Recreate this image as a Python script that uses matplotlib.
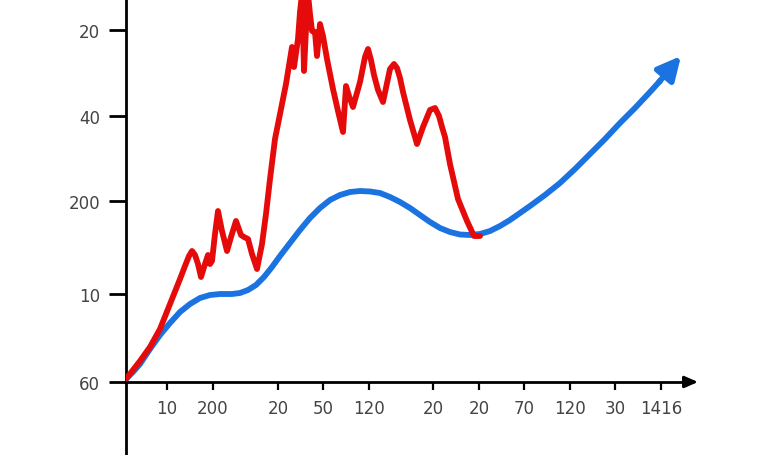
import numpy as np
import matplotlib
matplotlib.use("Agg")
import matplotlib.pyplot as plt

# tick positions (axis units) and their labels
x_ticks = [41, 87, 152, 197, 243, 307, 353, 398, 444, 489, 535]
x_labels = ['10', '200', '20', '50', '120', '20', '20', '70', '120', '30', '1416']
y_ticks = [0, 88, 181, 266, 352]
y_labels = ['60', '10', '200', '40', '20']

# blue series (smooth rising curve)
blue_x = [0, 7, 14, 24, 34, 44, 54, 64, 74, 84, 94, 106, 114, 122, 130, 138, 146, 154,
          164, 174, 184, 194, 204, 214, 224, 234, 244, 254, 264, 274, 284, 294, 304, 314,
          324, 334, 344, 354, 364, 374, 384, 394, 404, 419, 434, 449, 464, 479, 494, 509,
          524, 534]
blue_y = [3, 10, 18, 33, 47, 59, 70, 78, 84, 87, 88, 88, 89, 92, 97, 105, 115, 126,
          139, 152, 164, 174, 182, 187, 190, 191, 190.5, 189, 185, 180, 174, 167, 160, 154,
          150, 147.5, 147, 148, 151, 156, 162, 169, 176, 187, 199, 213, 228, 243, 259, 274,
          290, 301]

# red series (noisy peak)
red_x = [0, 14, 24, 34, 44, 54, 59, 63, 66, 69, 72, 75, 79, 82, 84, 86, 89, 92, 96, 101,
         105, 110, 115, 118, 122, 126, 131, 136, 140, 144, 149, 154, 160, 166, 168, 172,
         174, 176, 177, 178, 180, 182, 184, 186, 189, 191, 194, 197, 201, 207, 212, 217,
         220, 223, 227, 234, 239, 242, 245, 248, 252, 257, 264, 268, 271, 274, 277, 284,
         291, 297, 304, 309, 313, 316, 319, 324, 332, 341, 348, 354]
red_y = [3, 21, 35, 53, 78, 103, 116, 126, 131, 127, 118, 105, 118, 127, 118, 121, 148,
         171, 151, 131, 145, 161, 147, 145, 143, 128, 113, 138, 168, 203, 243, 268, 298,
         335, 315, 343, 370, 388, 353, 311, 353, 388, 368, 351, 350, 326, 358, 346, 323,
         293, 271, 250, 296, 286, 275, 300, 325, 333, 322, 307, 292, 280, 313, 318, 314,
         304, 290, 262, 238, 255, 272, 274, 266, 255, 245, 218, 183, 161, 146, 146]

fig = plt.figure(figsize=(7.68, 4.56), dpi=100)
ax = fig.add_axes([126 / 768, 0, 642 / 768, 1])
ax.set_xlim(0, 642)
ax.set_ylim(-73, 383)

ax.plot(blue_x, blue_y, color='#1a73e0', lw=4.2, solid_capstyle='round',
        solid_joinstyle='round', zorder=2)
ax.annotate('', xy=(555, 326), xytext=(533, 300),
            arrowprops=dict(arrowstyle='-|>,head_length=1.4,head_width=0.7',
                            color='#1a73e0', lw=4.2, shrinkA=0, shrinkB=0), zorder=2)
ax.plot(red_x, red_y, color='#e60b0b', lw=4.2, solid_capstyle='round',
        solid_joinstyle='round', zorder=3)

# axes styling
for s in ['top', 'right']:
    ax.spines[s].set_visible(False)
ax.spines['left'].set_linewidth(2)
ax.spines['bottom'].set_linewidth(2)
ax.spines['bottom'].set_position(('data', 0))
ax.spines['bottom'].set_bounds(0, 566)
ax.annotate('', xy=(572, 0), xytext=(560, 0),
            arrowprops=dict(arrowstyle='-|>,head_length=0.8,head_width=0.35',
                            color='black', lw=2, shrinkA=0, shrinkB=0),
            annotation_clip=False)

ax.set_xticks(x_ticks, x_labels)
ax.set_yticks(y_ticks, y_labels)
ax.tick_params(axis='y', length=12.5, width=2, pad=6, labelsize=12, labelcolor='#444444')
ax.tick_params(axis='x', length=6, width=1.6, pad=6, labelsize=12, labelcolor='#444444')

fig.savefig('out.png', dpi=100)
